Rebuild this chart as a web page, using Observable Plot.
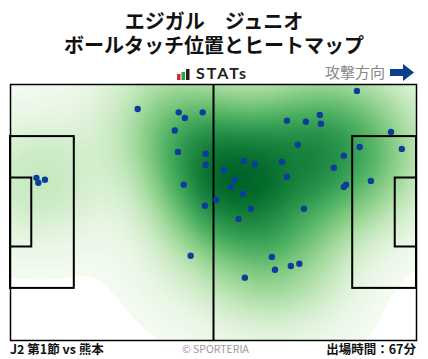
<!DOCTYPE html>
<html><head><meta charset="utf-8">
<script src="https://cdn.jsdelivr.net/npm/d3@7"></script>
<script src="https://cdn.jsdelivr.net/npm/@observablehq/plot@0.6"></script>
<style>
body{margin:0;background:#fff;font-family:"Noto Sans CJK JP","Noto Sans",sans-serif;}
#wrap{position:relative;width:428px;height:359px;overflow:hidden;}
#chart{position:absolute;left:0;top:0;}
.t{position:absolute;white-space:nowrap;}
.title{left:0;width:428px;height:22px;text-align:center;font-weight:bold;font-size:20px;line-height:22px;color:#111;}
#title1{top:10px;}
#title2{top:34px;}
#stats{left:177px;top:63px;font-size:16px;font-weight:bold;color:#222;font-family:"Lato","Noto Sans",sans-serif;letter-spacing:2px;line-height:20px;}
#dir{left:325px;top:62px;font-size:15px;color:#888;line-height:20px;}
#foot1{left:10px;top:340px;font-size:12.5px;font-weight:bold;color:#111;line-height:18px;}
#foot2{left:182px;top:341px;font-size:10.5px;color:#999;line-height:16px;}
#foot3{right:12px;top:340px;font-size:12.5px;font-weight:bold;color:#111;line-height:18px;}
</style></head>
<body>
<div id="wrap">
<div id="chart"></div>
<div class="t title" id="title1">エジガル　ジュニオ</div>
<div class="t title" id="title2">ボールタッチ位置とヒートマップ</div>
<div class="t" id="stats"><svg width="13" height="11" style="vertical-align:-1px;margin-right:6px"><rect x="0" y="5" width="3.5" height="6" fill="#d8262e"/><rect x="4.5" y="3" width="3.5" height="8" fill="#2aa43c"/><rect x="9" y="0" width="3.5" height="11" fill="#222"/></svg>STATs</div>
<div class="t" id="dir">攻撃方向 <svg width="24" height="17" style="vertical-align:-3px;margin-left:2px"><polygon points="0,5 13,5 13,0 24,8.5 13,17 13,12 0,12" fill="#0b3d91"/></svg></div>
<div class="t" id="foot1">J2 第1節 vs 熊本</div>
<div class="t" id="foot2">© SPORTERIA</div>
<div class="t" id="foot3">出場時間：67分</div>
</div>
<script>
// Ball touch positions (metres, pitch 105 x 68, y measured from top edge)
const touchX = [32.9,43.5,45.1,49.7,42.5,43.3,50.5,50.5,44.8,50.3,46.6,53.2,55.2,60.3,63.2,58.0,57.0,60.1,62.2,59.0,70.2,71.5,67.6,68.4,72.5,74.7,60.6,75.9,89.6,71.5,76.4,80.0,80.3,98.4,74.3,90.3,101.2,86.2,83.6,86.8,86.2,93.2,6.7,7.2,8.9];
const touchY = [6.5,7.4,8.9,7.4,12.2,17.9,18.4,21.3,26.6,32.2,45.5,30.6,22.7,20.3,21.1,25.3,27.2,29.0,33.0,35.7,20.5,24.5,45.8,49.2,48.2,47.6,51.3,33.0,1.7,9.6,9.9,8.1,10.4,12.6,16.0,16.6,17.1,18.9,22.1,26.6,27.2,25.6,24.8,26.1,25.3];
const touches = touchX.map((x, i) => ({x, y: touchY[i]}));

// Pitch geometry (metres)
const pitchLength = 105, pitchWidth = 68;
const boxes = [
  {x1: 0, x2: 16.5, y1: 13.84, y2: 54.16},
  {x1: 0, x2: 5.5, y1: 24.84, y2: 43.16},
  {x1: 88.5, x2: 105, y1: 13.84, y2: 54.16},
  {x1: 99.5, x2: 105, y1: 24.84, y2: 43.16}
];

const chart = Plot.plot({
  width: 428,
  height: 359,
  marginLeft: 10,
  marginRight: 12,
  marginTop: 84,
  marginBottom: 19,
  x: {domain: [0, pitchLength], axis: null},
  y: {domain: [0, pitchWidth], reverse: true, axis: null},
  color: {type: "pow", exponent: 0.8, interpolate: t => d3.interpolateGreens(0.9 * t)},
  marks: [
    Plot.density(touches, {x: "x", y: "y", bandwidth: 40, thresholds: 80, fill: "density", clip: true}),
    Plot.rect(boxes, {x1: "x1", x2: "x2", y1: "y1", y2: "y2", fill: "none", stroke: "#000", strokeWidth: 2}),
    Plot.ruleX([pitchLength / 2], {y1: 0, y2: pitchWidth, stroke: "#000", strokeWidth: 2}),
    Plot.frame({stroke: "#000", strokeWidth: 1.5}),
    Plot.dot(touches, {x: "x", y: "y", r: 3.2, fill: "#0b3d9c", stroke: "none"})
  ]
});
document.getElementById("chart").appendChild(chart);
</script>
</body></html>
